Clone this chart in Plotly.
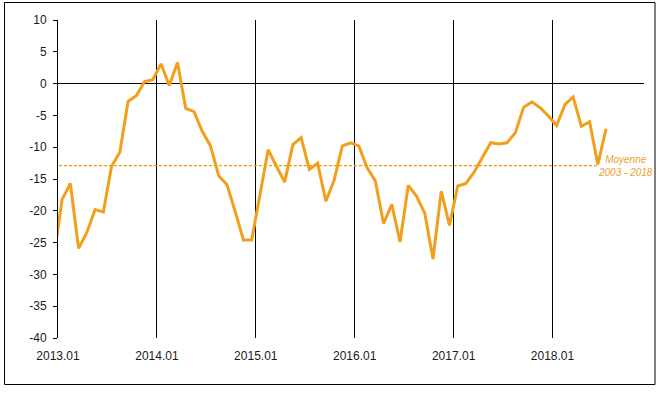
import plotly.graph_objects as go

# Monthly values 2012.12 .. 2018.07 (first value only feeds the clipped lead-in segment)
values = [-27.2,
          -18.2, -15.7, -25.9, -23.4, -19.8, -20.2, -13.0, -10.8, -2.8, -1.9, 0.3, 0.6,
          3.1, -0.3, 3.3, -3.9, -4.4, -7.5, -9.8, -14.5, -15.9, -20.1, -24.6, -24.6,
          -17.5, -10.4, -13.0, -15.5, -9.6, -8.5, -13.5, -12.5, -18.5, -15.2, -9.8, -9.3,
          -9.8, -13.2, -15.3, -22.0, -19.0, -24.9, -16.0, -17.7, -20.4, -27.6, -16.9, -22.3,
          -16.1, -15.7, -13.9, -11.7, -9.3, -9.5, -9.3, -7.7, -3.7, -2.9, -3.8, -5.1,
          -6.6, -3.3, -2.1, -6.7, -6.0, -12.7, -7.1]
mean_value = -12.9
mean_months = 67  # 2012.12 .. 2018.06
year_labels = ["2013.01", "2014.01", "2015.01", "2016.01", "2017.01", "2018.01"]
y_ticks = [10, 5, 0, -5, -10, -15, -20, -25, -30, -35, -40]
y_tick_labels = ["10", "5", "0", "-5", "-10", "-15", "-20", "-25", "-30", "-35", "-40"]
mean_text = "Moyenne<br>2003 - 2018"

# category centres: month index i sits at i + 0.5 (index -1 = 2012.12)
x_vals = [i + 0.5 for i in range(-1, len(values) - 1)]
x_mean = [i + 0.5 for i in range(-1, mean_months - 1)]
tick_pos = [12 * k for k in range(len(year_labels))]

ORANGE = "#F29F1C"
MEAN_ORANGE = "#F0960C"
FONT = "Liberation Sans, Arial, sans-serif"

fig = go.Figure()
fig.add_trace(go.Scatter(x=x_mean, y=[mean_value] * len(x_mean), mode="lines",
                         line=dict(color=MEAN_ORANGE, width=1.2, dash="3px,2px"),
                         hoverinfo="skip", showlegend=False))
fig.add_trace(go.Scatter(x=x_vals, y=values, mode="lines",
                         line=dict(color=ORANGE, width=3),
                         showlegend=False))

fig.add_annotation(x=68.8, y=mean_value, text="<i>" + mean_text + "</i>",
                   showarrow=False, xanchor="center", yanchor="middle",
                   font=dict(family=FONT, size=10, color="#F0A030"))

# outer chart border
pw, ph = 586.0, 318.0
fig.add_shape(type="rect", xref="paper", yref="paper",
              x0=(4.5 - 58) / pw, x1=(655 - 58) / pw,
              y0=(338 - 384.5) / ph, y1=(338 - 2.5) / ph,
              line=dict(color="black", width=1), fillcolor="rgba(0,0,0,0)", layer="above")

fig.update_layout(
    width=660, height=395,
    margin=dict(l=58, r=16, t=20, b=57, autoexpand=False),
    paper_bgcolor="white", plot_bgcolor="white",
    font=dict(family=FONT, size=12, color="#1a1a1a"),
    xaxis=dict(range=[0, 71.1], tickvals=tick_pos, ticktext=year_labels,
               showgrid=True, gridcolor="black", gridwidth=1,
               zeroline=False, showline=False, ticks="",
               ticklabelstandoff=9,
               tickfont=dict(size=12, color="#1a1a1a")),
    yaxis=dict(range=[-40, 10], tickvals=y_ticks, ticktext=y_tick_labels,
               showgrid=False,
               zeroline=True, zerolinecolor="black", zerolinewidth=1,
               showline=True, linecolor="black", linewidth=1,
               ticks="outside", ticklen=4, tickcolor="black",
               ticklabelstandoff=4,
               tickfont=dict(size=12, color="#1a1a1a")),
)

fig.write_html("out.html", config={"displayModeBar": False},
               post_script="document.body.style.margin='0';document.body.style.padding='0';")
